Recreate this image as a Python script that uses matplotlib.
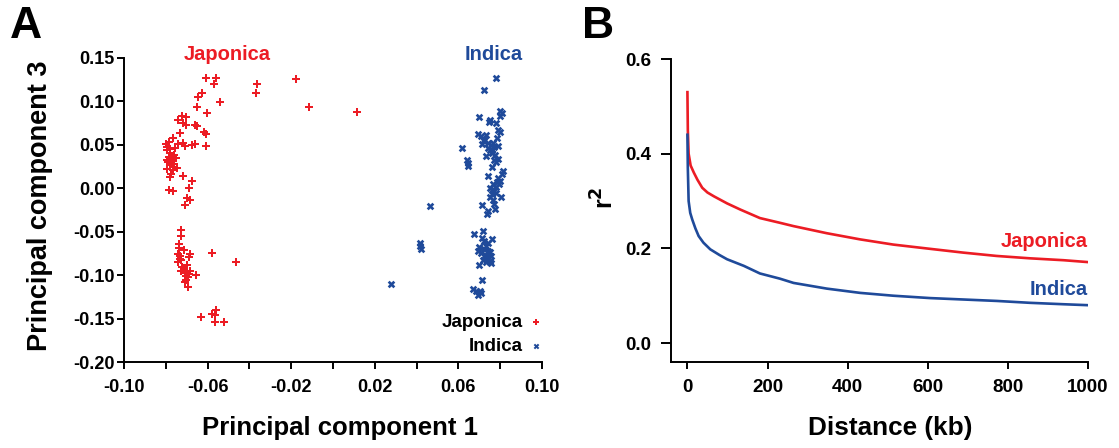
import matplotlib
matplotlib.use("Agg")
import matplotlib.pyplot as plt

plt.rcParams['font.family'] = ['Liberation Sans', 'DejaVu Sans']
plt.rcParams['font.weight'] = 'bold'

RED = '#EC1C24'
BLUE = '#1F4A9A'

# ---------------- Panel A data (PC1, PC3) ----------------
japonica_pc1 = [-0.0608, -0.0561, -0.0571, -0.0366, -0.0177, -0.0627, -0.0648, -0.0369, -0.0542, -0.0653,
                -0.0117, 0.0115, -0.0605, -0.0723, -0.0705, -0.0744, -0.0720, -0.0704, -0.0662, -0.0651,
                -0.0734, -0.0616, -0.0608, -0.0766, -0.0785, -0.0798, -0.0741, -0.0717, -0.0710, -0.0755,
                -0.0792, -0.0677, -0.0662, -0.0606, -0.0795, -0.0779, -0.0763, -0.0787, -0.0750, -0.0771,
                -0.0795, -0.0760, -0.0782, -0.0747, -0.0792, -0.0766, -0.0776, -0.0782, -0.0718, -0.0673,
                -0.0689, -0.0784, -0.0766, -0.0699, -0.0686, -0.0710, -0.0725, -0.0726, -0.0739, -0.0737,
                -0.0715, -0.0686, -0.0689, -0.0744, -0.0734, -0.0725, -0.0744, -0.0577, -0.0464, -0.0721,
                -0.0726, -0.0710, -0.0683, -0.0657, -0.0702, -0.0693, -0.0705, -0.0709, -0.0696, -0.0561,
                -0.0577, -0.0565, -0.0633, -0.0566, -0.0523, -0.0780, -0.0770, -0.0790, -0.0760, -0.0700,
                -0.0715, -0.0690, -0.0730]
japonica_pc3 = [0.1265, 0.1273, 0.1200, 0.1196, 0.1254, 0.1096, 0.1046, 0.1092, 0.0992, 0.0938,
                0.0934, 0.0884, 0.0869, 0.0834, 0.0819, 0.0784, 0.0749, 0.0730, 0.0734, 0.0722,
                0.0638, 0.0649, 0.0630, 0.0580, 0.0534, 0.0507, 0.0515, 0.0518, 0.0491, 0.0464,
                0.0476, 0.0495, 0.0507, 0.0484, 0.0438, 0.0407, 0.0380, 0.0361, 0.0353, 0.0322,
                0.0322, 0.0284, 0.0264, 0.0237, 0.0226, 0.0206, 0.0168, 0.0130, 0.0141, 0.0083,
                -0.0001, -0.0017, -0.0036, -0.0109, -0.0140, -0.0190, -0.0479, -0.0544, -0.0640, -0.0687,
                -0.0710, -0.0756, -0.0787, -0.0756, -0.0814, -0.0825, -0.0852, -0.0748, -0.0845, -0.0910,
                -0.0949, -0.0972, -0.0949, -0.0999, -0.1006, -0.1026, -0.1056, -0.1083, -0.1133, -0.1407,
                -0.1449, -0.1464, -0.1480, -0.1538, -0.1538, 0.0450, 0.0350, 0.0300, 0.0250, -0.0880,
                -0.0930, -0.0990, -0.0780]

indica_pc1 = [0.0782, 0.0721, 0.0801, 0.0807, 0.0798, 0.0698, 0.0746, 0.0753, 0.0782, 0.0791,
              0.0798, 0.0695, 0.0708, 0.0734, 0.0724, 0.0714, 0.0740, 0.0756, 0.0772, 0.0788,
              0.0750, 0.0759, 0.0734, 0.0775, 0.0791, 0.0782, 0.0759, 0.0814, 0.0807, 0.0740,
              0.0788, 0.0801, 0.0794, 0.0782, 0.0753, 0.0772, 0.0759, 0.0804, 0.0750, 0.0766,
              0.0714, 0.0772, 0.0775, 0.0740, 0.0737, 0.0615, 0.0641, 0.0647, 0.0647, 0.0462,
              0.0417, 0.0417, 0.0420, 0.0276, 0.0718, 0.0673, 0.0714, 0.0759, 0.0740, 0.0698,
              0.0724, 0.0692, 0.0750, 0.0727, 0.0756, 0.0737, 0.0718, 0.0750, 0.0730, 0.0756,
              0.0743, 0.0698, 0.0711, 0.0670, 0.0686, 0.0702, 0.0692, 0.0708, 0.0721, 0.0762,
              0.0743, 0.0766, 0.0785, 0.0772, 0.0785, 0.0766, 0.0762, 0.0782, 0.0724, 0.0734,
              0.0743, 0.0730, 0.0708]
indica_pc3 = [0.1273, 0.1134, 0.0892, 0.0869, 0.0830, 0.0815, 0.0765, 0.0784, 0.0746, 0.0669,
              0.0649, 0.0630, 0.0599, 0.0611, 0.0553, 0.0515, 0.0522, 0.0495, 0.0476, 0.0484,
              0.0438, 0.0407, 0.0368, 0.0380, 0.0337, 0.0307, 0.0245, 0.0199, 0.0168, 0.0145,
              0.0122, 0.0083, 0.0053, 0.0014, 0.0006, -0.0032, -0.0063, -0.0102, -0.0102, -0.0140,
              -0.0194, -0.0186, -0.0240, -0.0263, -0.0294, 0.0461, 0.0330, 0.0291, 0.0253, -0.0209,
              -0.0625, -0.0664, -0.0698, -0.1103, -0.0487, -0.0529, -0.0571, -0.0587, -0.0633, -0.0679,
              -0.0702, -0.0718, -0.0737, -0.0764, -0.0779, -0.0802, -0.0825, -0.0833, -0.0848, -0.0856,
              -0.0818, -0.0887, -0.1056, -0.1164, -0.1180, -0.1187, -0.1226, -0.1203, 0.0545, 0.0446,
              0.0469, 0.0522, 0.0584, 0.0330, 0.0072, 0.0045, -0.0025, -0.0055, -0.0602, -0.0664,
              -0.0718, -0.0795, -0.0749]

# ---------------- Panel B data (LD decay) ----------------
japonica_dist = [0, 1, 3, 8, 16, 25, 37, 50, 66, 99, 132, 181, 231, 265, 348, 431, 514, 606, 689, 772, 855, 939, 1000]
japonica_r2 = [0.530, 0.450, 0.400, 0.375, 0.360, 0.345, 0.328, 0.318, 0.310, 0.295, 0.282, 0.264, 0.254, 0.247,
               0.232, 0.219, 0.208, 0.199, 0.191, 0.184, 0.179, 0.175, 0.171]
indica_dist = [0, 1, 3, 7, 12, 20, 28, 40, 57, 80, 99, 141, 181, 231, 265, 348, 431, 514, 606, 689, 772, 855, 939, 1000]
indica_r2 = [0.440, 0.370, 0.300, 0.275, 0.261, 0.242, 0.226, 0.212, 0.198, 0.186, 0.177, 0.163, 0.147, 0.136,
             0.127, 0.115, 0.106, 0.100, 0.095, 0.092, 0.089, 0.085, 0.082, 0.080]

pca_xticks = [-0.10, -0.08, -0.06, -0.04, -0.02, 0.00, 0.02, 0.04, 0.06, 0.08, 0.10]
pca_xticklabels = ['-0.10', '', '-0.06', '', '-0.02', '', '0.02', '', '0.06', '', '0.10']
pca_yticks = [-0.20, -0.15, -0.10, -0.05, 0.00, 0.05, 0.10, 0.15]
pca_yticklabels = ['-0.20', '-0.15', '-0.10', '-0.05', '0.00', '0.05', '0.10', '0.15']
ld_xticks = [0, 200, 400, 600, 800, 1000]
ld_yticks = [0.0, 0.2, 0.4, 0.6]
ld_yticklabels = ['0.0', '0.2', '0.4', '0.6']

W, H = 1119, 448
fig = plt.figure(figsize=(W / 100, H / 100), dpi=100)

def rect(l, t, r, b):
    return [l / W, 1 - b / H, (r - l) / W, (b - t) / H]

# ---------------- Panel A ----------------
axA = fig.add_axes(rect(124, 58, 542, 362))
axA.scatter(japonica_pc1, japonica_pc3, marker='P', s=26, color=RED, linewidths=0, label='Japonica')
axA.scatter(indica_pc1, indica_pc3, marker='X', s=30, color=BLUE, linewidths=0, label='Indica')
axA.set_xlim(-0.10, 0.10)
axA.set_ylim(-0.20, 0.15)
axA.set_xticks(pca_xticks)
axA.set_xticklabels(pca_xticklabels)
axA.set_yticks(pca_yticks)
axA.set_yticklabels(pca_yticklabels)
for s in ['top', 'right']:
    axA.spines[s].set_visible(False)
for s in ['left', 'bottom']:
    axA.spines[s].set_linewidth(1.4)
axA.tick_params(axis='both', width=1.4, length=5, labelsize=13, pad=2)
axA.tick_params(axis='x', pad=7)
for lab in axA.get_xticklabels() + axA.get_yticklabels():
    lab.set_fontweight('bold')
leg = axA.legend(loc='lower right', bbox_to_anchor=(1.026, 0.0), frameon=False, markerfirst=False,
                 prop={'weight': 'bold', 'size': 13.5}, handletextpad=0.2, handlelength=1.0,
                 labelspacing=0.35, borderaxespad=0.0, markerscale=0.75)
axA.text(-0.0506, 0.154, 'Japonica', color=RED, fontsize=14.5, fontweight='bold', ha='center', va='center')
axA.text(0.0770, 0.154, 'Indica', color=BLUE, fontsize=14.5, fontweight='bold', ha='center', va='center')

fig.text(40 / W, 1 - 206 / H, 'Principal component 3', rotation=90, fontsize=19.5, fontweight='bold',
         ha='center', va='center')
fig.text(340 / W, 1 - 428 / H, 'Principal component 1', fontsize=18.5, fontweight='bold',
         ha='center', va='center')
fig.text(10 / W, 1 - 27 / H, 'A', fontsize=32, fontweight='bold', ha='left', va='center')

# ---------------- Panel B ----------------
axB = fig.add_axes(rect(671, 59, 1088, 362))
axB.plot(japonica_dist, japonica_r2, color=RED, lw=1.9)
axB.plot(indica_dist, indica_r2, color=BLUE, lw=1.9)
axB.set_xlim(-41, 1000)
axB.set_ylim(-0.04, 0.60)
axB.set_xticks(ld_xticks)
axB.set_yticks(ld_yticks)
axB.set_yticklabels(ld_yticklabels)
for s in ['top', 'right']:
    axB.spines[s].set_visible(False)
for s in ['left', 'bottom']:
    axB.spines[s].set_linewidth(1.4)
axB.tick_params(axis='both', width=1.4, labelsize=13.5)
axB.tick_params(axis='y', length=7, pad=7)
axB.tick_params(axis='x', length=5, pad=7)
for lab in axB.get_xticklabels() + axB.get_yticklabels():
    lab.set_fontweight('bold')
axB.text(1000, 0.214, 'Japonica', color=RED, fontsize=14.5, fontweight='bold', ha='right', va='center')
axB.text(1000, 0.113, 'Indica', color=BLUE, fontsize=14.5, fontweight='bold', ha='right', va='center')

fig.text(605 / W, 1 - 198 / H, 'r$\\mathbf{^2}$', rotation=90, fontsize=18, fontweight='bold',
         ha='center', va='center')
fig.text(890 / W, 1 - 428 / H, 'Distance (kb)', fontsize=18.8, fontweight='bold', ha='center', va='center')
fig.text(582 / W, 1 - 27 / H, 'B', fontsize=32, fontweight='bold', ha='left', va='center')

fig.savefig('out.png', dpi=100)
